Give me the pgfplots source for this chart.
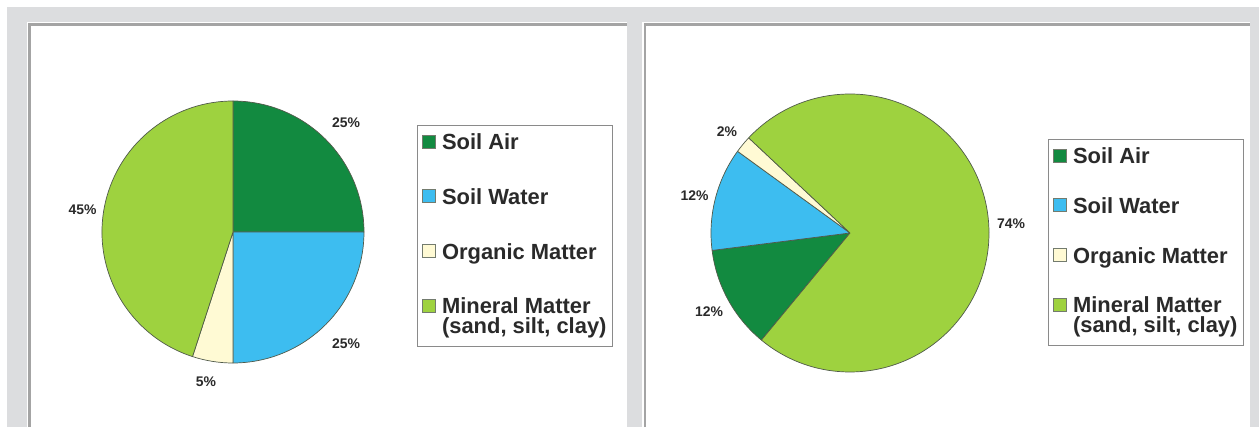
\documentclass[border=0pt]{standalone}
\usepackage{pgfplots}
\pgfplotsset{compat=1.18}
\usepackage{fontspec}
\setmainfont{Liberation Sans}
\definecolor{airc}{HTML}{128A40}
\definecolor{waterc}{HTML}{3DBDF0}
\definecolor{orgc}{HTML}{FFFAD4}
\definecolor{minc}{HTML}{9ED23F}
\definecolor{edgec}{HTML}{505A4A}
\definecolor{bgc}{HTML}{DCDDDF}
\definecolor{panelc}{HTML}{A4A4A4}
\definecolor{legc}{HTML}{8A8A8A}
\definecolor{textc}{HTML}{2A2A2A}
% one pie slice: start angle, percentage, colour, radius
\newcommand\slice[4]{\filldraw[fill=#3, draw=edgec, line width=0.7bp, line join=round]
  (axis cs:0,0) -- ++({#1}:#4) arc[start angle={#1}, delta angle={-3.6*(#2)}, radius=#4] -- cycle;}
\newcommand\lstrut{\rule[-5bp]{0pt}{17bp}}
\tikzset{pielab/.style={font=\fontsize{14}{16}\selectfont\bfseries, text=textc}}
\pgfplotsset{
  pie/.style={hide axis, scale only axis, clip=false,
    xmin=-1, xmax=1, ymin=-1, ymax=1, anchor=center,
    legend image code/.code={\draw[##1, draw=edgec!80, line width=0.6bp] (0bp,1.5bp) rectangle (13bp,14.5bp);},
  },
  legsty/.style={legend style={draw=legc, line width=0.9bp, fill=white,
    inner xsep=5bp, inner ysep=7bp, row sep=#1,
    font=\fontsize{22}{19.5}\selectfont\bfseries, text=textc,
    cells={anchor=base west},
    nodes={inner xsep=1bp, inner ysep=1bp, text depth=, anchor=base west},
    /tikz/every odd column/.append style={column sep=5bp},
    anchor=north west}},
}
\begin{document}
\begin{tikzpicture}
% background and panels
\fill[white] (0,0) rectangle (1259bp,427bp);
\fill[bgc] (7bp,0) rectangle (1259bp,420bp);
\fill[white] (27bp,0) rectangle (627bp,405bp);
\fill[white] (642bp,0) rectangle (1250bp,405bp);
\draw[panelc, line width=2.2bp] (29.5bp,0) -- (29.5bp,402.5bp) -- (627bp,402.5bp);
\draw[panelc, line width=2.2bp] (645bp,0) -- (645bp,402.5bp) -- (1250bp,402.5bp);

% left pie: Soil Air 25, Soil Water 25, Organic 5, Mineral 45
\begin{axis}[pie, width=262bp, height=262bp, at={(233bp,195bp)},
  legsty=32bp, legend style={at={(1.2023,0.9084)}}]
  \slice{90}{25}{airc}{131bp}
  \slice{90-3.6*25}{25}{waterc}{131bp}
  \slice{90-3.6*50}{5}{orgc}{131bp}
  \slice{90-3.6*55}{45}{minc}{131bp}
  \node[pielab] at (axis cs:0.863,0.832) {25\%};
  \node[pielab] at (axis cs:0.863,-0.855) {25\%};
  \node[pielab] at (axis cs:-0.206,-1.145) {5\%};
  \node[pielab] at (axis cs:-1.149,0.168) {45\%};
  \addlegendimage{fill=airc}
  \addlegendentry{\lstrut Soil Air}
  \addlegendimage{fill=waterc}
  \addlegendentry{\lstrut Soil Water}
  \addlegendimage{fill=orgc}
  \addlegendentry{\lstrut Organic Matter}
  \addlegendimage{fill=minc}
  \addlegendentry{\lstrut\vtop{\hbox{Mineral Matter}\hbox{(sand, silt, clay)}}}
\end{axis}

% right pie: Soil Air 12, Soil Water 12, Organic 2, Mineral 74
\begin{axis}[pie, width=278bp, height=278bp, at={(850bp,194bp)},
  legsty=27bp, legend style={at={(1.2122,0.8381)}}]
  \slice{230.4}{12}{airc}{139bp}
  \slice{230.4-3.6*12}{12}{waterc}{139bp}
  \slice{230.4-3.6*24}{2}{orgc}{139bp}
  \slice{230.4-3.6*26}{74}{minc}{139bp}
  \node[pielab] at (axis cs:-0.885,0.727) {2\%};
  \node[pielab] at (axis cs:-1.119,0.266) {12\%};
  \node[pielab] at (axis cs:-1.014,-0.568) {12\%};
  \node[pielab] at (axis cs:1.158,0.065) {74\%};
  \addlegendimage{fill=airc}
  \addlegendentry{\lstrut Soil Air}
  \addlegendimage{fill=waterc}
  \addlegendentry{\lstrut Soil Water}
  \addlegendimage{fill=orgc}
  \addlegendentry{\lstrut Organic Matter}
  \addlegendimage{fill=minc}
  \addlegendentry{\lstrut\vtop{\hbox{Mineral Matter}\hbox{(sand, silt, clay)}}}
\end{axis}
\end{tikzpicture}
\end{document}
